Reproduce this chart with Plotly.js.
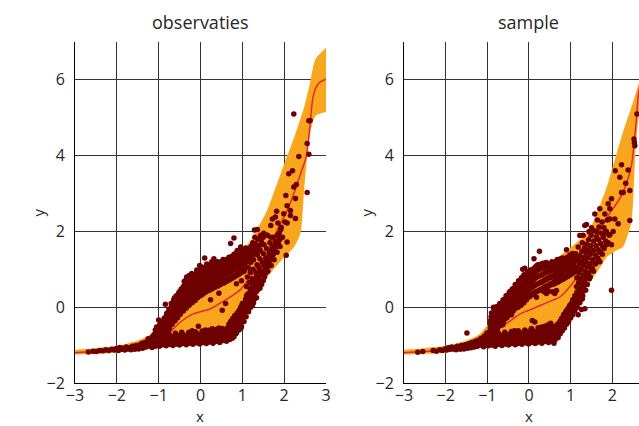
<!DOCTYPE html>
<html>
<head>
<meta charset="utf-8">
<script src="https://cdn.plot.ly/plotly-3.0.1.min.js"></script>
<style>
html, body { margin:0; padding:0; overflow:hidden; background:#fff; }
#chart { width:660px; height:426px; }
</style>
</head>
<body>
<div id="chart"></div>
<script>
// ---------- panel titles, axis titles & ticks ----------
const panelTitles = ["observaties", "sample"];
const xTitle = "x";
const yTitle = "y";
const xTicks = [-3, -2, -1, 0, 1, 2, 3];
const xTicksVisibleRight = [-3, -2, -1, 0, 1, 2];
const yTicks = [-2, 0, 2, 4, 6];

// ---------- observaties: band (lower / upper) ----------
const obsBandX  = [-3, -2.5, -2, -1.5, -1.2, -1, -0.5, 0, 0.5, 0.88, 1.03, 1.2, 1.35, 1.6, 2.0, 2.23, 2.39, 2.47, 2.55, 2.62, 2.75, 3.0];
const obsBandLo = [-1.25, -1.23, -1.2, -1.13, -1.08, -1.05, -1.0, -0.97, -0.9, -0.69, -0.34, 0.0, 0.36, 0.8, 1.32, 1.58, 1.95, 3.0, 4.0, 4.6, 5.05, 5.15];
const obsBandHi = [-1.12, -1.08, -1.02, -0.88, -0.72, -0.5, 0.2, 0.72, 1.12, 1.42, 1.55, 1.76, 2.05, 2.58, 3.78, 4.45, 4.98, 5.25, 5.6, 5.93, 6.55, 6.85];

// ---------- observaties: mean line ----------
const obsLineX = [-3, -2.5, -2, -1.5, -1.2, -0.9, -0.72, -0.48, -0.2, 0.0, 0.24, 0.5, 0.75, 0.96, 1.12, 1.32, 1.6, 1.83, 2.07, 2.23, 2.4, 2.52, 2.58, 2.63, 2.7, 2.8, 2.9, 3.0];
const obsLineY = [-1.2, -1.17, -1.13, -1.06, -0.98, -0.8, -0.65, -0.39, -0.19, -0.12, -0.04, 0.13, 0.3, 0.47, 0.7, 0.97, 1.46, 2.03, 2.55, 3.0, 3.55, 3.95, 4.4, 4.95, 5.6, 5.88, 5.97, 6.02];

// ---------- observaties: points [x, y] ----------
const obsPoints = [
[-2.68,-1.18],[-2.57,-1.16],[-2.49,-1.17],[-2.41,-1.14],[-2.33,-1.15],[-2.26,-1.12],[-2.19,-1.14],[-2.12,-1.11],[-2.06,-1.13],[-2.01,-1.09],[-1.96,-1.14],[-1.93,-1.06],[-1.89,-1.11],[-1.85,-1.08],[-1.81,-1.13],[-1.77,-1.05],[-1.73,-1.1],[-1.69,-1.07],[-1.66,-1.12],[-1.63,-1.03],[-1.6,-1.08],[-1.57,-1.11],[-1.54,-1.01],[-1.51,-1.06],[-1.48,-1.1],[-1.45,-0.99],[-1.43,-1.04],[-1.4,-0.95],[-1.38,-1.08],[-1.35,-1.0],[-1.33,-0.93],[-1.3,-1.05],[-1.28,-0.97],[-1.26,-0.9],[-1.23,-1.02],[-1.21,-0.94],[-1.19,-0.86],[-1.16,-1.06],[-1.14,-0.98],[-1.12,-0.9],[-1.1,-0.82],[-1.08,-1.03],[-1.06,-0.95],[-1.04,-0.76],[-1.02,-0.88],[-1.0,-0.34],[-1.11,-0.72],[-1.25,-0.83],[-1.08,-0.6],[-1.05,-0.52],[-1.15,-0.78],
[-0.98,-1.03],[-0.9,-0.99],[-0.82,-1.02],[-0.74,-0.98],[-0.66,-1.01],[-0.58,-0.97],[-0.5,-1.0],[-0.42,-0.96],[-0.34,-0.99],[-0.26,-0.95],[-0.18,-0.98],[-0.1,-0.94],[-0.02,-0.97],[0.06,-0.93],[0.14,-0.96],[0.22,-0.92],[0.3,-0.95],[0.38,-0.9],[0.46,-0.93],[0.54,-0.88],[0.62,-0.9],
[-0.94,-0.9],[-0.86,-0.87],[-0.78,-0.91],[-0.7,-0.86],[-0.62,-0.89],[-0.54,-0.85],[-0.46,-0.88],[-0.38,-0.84],[-0.3,-0.87],[-0.22,-0.82],[-0.14,-0.86],[-0.06,-0.81],[0.02,-0.85],[0.1,-0.8],[0.18,-0.83],[0.26,-0.78],[0.34,-0.81],[0.42,-0.76],[0.5,-0.79],[0.58,-0.73],
[-0.96,-0.8],[-0.88,-0.77],[-0.8,-0.79],[-0.72,-0.76],[-0.64,-0.78],[-0.56,-0.74],[-0.48,-0.77],[-0.4,-0.73],[-0.32,-0.76],[-0.24,-0.71],[-0.16,-0.74],[-0.08,-0.7],[0.0,-0.72],[0.08,-0.68],[0.16,-0.7],[0.24,-0.66],[0.32,-0.69],[0.4,-0.64],[0.48,-0.66],[0.56,-0.61],
[-0.45,-0.66],[-0.2,-0.62],[0.12,-0.6],[0.28,-0.57],[0.44,-0.55],[-0.05,-0.5],
[-0.95,-0.95],[-0.87,-0.93],[-0.79,-0.96],[-0.71,-0.92],[-0.63,-0.95],[-0.55,-0.91],[-0.47,-0.94],[-0.39,-0.9],[-0.31,-0.93],[-0.23,-0.89],[-0.15,-0.92],[-0.07,-0.88],[0.01,-0.91],[0.09,-0.87],[0.17,-0.9],[0.25,-0.86],[0.33,-0.88],[0.41,-0.84],[0.49,-0.86],[0.57,-0.82],
[-0.92,-0.84],[-0.84,-0.82],[-0.76,-0.84],[-0.68,-0.8],[-0.6,-0.83],[-0.52,-0.79],[-0.44,-0.82],[-0.36,-0.78],[-0.28,-0.81],[-0.2,-0.77],[-0.12,-0.79],[-0.04,-0.75],[0.04,-0.78],[0.12,-0.74],[0.2,-0.76],[0.28,-0.72],[0.36,-0.74],[0.44,-0.7],[0.52,-0.72],[0.6,-0.67],
[-0.9,-0.72],[-0.76,-0.7],[-0.6,-0.69],[-0.44,-0.7],[-0.28,-0.66],[-0.12,-0.65],[0.04,-0.63],[0.2,-0.61],[0.36,-0.59],[0.52,-0.56],
[0.62,-0.78],[0.64,-0.55],[0.66,-0.68],[0.68,-0.45],[0.7,-0.85],[0.7,-0.6],[0.72,-0.38],[0.74,-0.72],[0.75,-0.5],[0.77,-0.3],[0.78,-0.62],[0.8,-0.42],[0.8,-0.78],[0.82,-0.22],[0.83,-0.55],[0.85,-0.35],[0.86,-0.68],[0.88,-0.15],[0.89,-0.48],[0.9,-0.28],[0.92,-0.6],[0.93,-0.08],[0.94,-0.4],[0.96,-0.2],[0.97,0.02],[0.98,-0.5],[1.0,-0.3],[1.01,-0.1],[1.02,0.1],[1.04,-0.38],[1.05,-0.18],[1.06,0.05],[1.08,0.22],[1.09,-0.25],[1.1,-0.02],[1.12,0.15],[1.13,0.35],[1.15,-0.12],[1.16,0.08],[1.17,0.28],[1.19,0.45],[1.2,0.0],[1.22,0.2],[1.23,0.4],[1.25,0.58],[1.27,0.12],[1.28,0.32],[1.3,0.52],[1.32,0.72],[1.34,0.25],[1.36,0.45],[1.38,0.65],[1.4,0.85],
[0.65,-0.85],[0.67,-0.6],[0.69,-0.72],[0.71,-0.5],[0.73,-0.62],[0.76,-0.4],[0.76,-0.82],[0.79,-0.52],[0.81,-0.3],[0.84,-0.45],[0.84,-0.7],[0.87,-0.25],[0.88,-0.58],[0.91,-0.38],[0.91,-0.12],[0.95,-0.3],[0.95,-0.05],[0.97,-0.55],[0.99,-0.15],[1.0,0.1],[1.03,-0.24],[1.03,0.0],[1.06,-0.1],[1.07,0.14],[1.1,0.3],[1.11,0.06],[1.14,-0.06],[1.14,0.22],[1.18,0.1],[1.18,0.36],[1.21,0.3],[1.21,0.5],[1.24,0.05],[1.25,0.45],[1.26,0.66],[1.29,0.22],[1.3,0.62],[1.33,0.4],[1.34,0.8],[1.37,0.55],[1.39,0.75],[1.42,0.5],[1.42,0.95],[1.45,0.68],[1.48,0.85],[1.5,0.7],[1.52,1.1],[1.56,0.9],[1.58,1.2],[1.62,1.08],[1.64,1.35],[1.68,1.25],[1.7,1.5],[1.74,1.4],[1.78,1.65],[1.82,1.6],[1.84,1.9],[1.9,1.8],
[1.1,0.55],[1.12,0.8],[1.14,1.05],[1.15,1.3],[1.17,0.65],[1.19,0.92],[1.2,1.18],[1.22,1.45],[1.24,0.75],[1.26,1.0],[1.27,1.25],[1.29,1.55],[1.3,1.85],[1.33,0.9],[1.35,1.12],[1.36,1.38],[1.38,1.62],[1.4,1.05],[1.42,1.28],[1.43,1.5],[1.45,1.75],[1.46,0.6],[1.47,0.95],[1.48,1.18],[1.5,1.42],[1.52,1.65],[1.53,0.8],[1.55,1.05],[1.56,1.3],[1.58,1.55],[1.6,1.9],[1.61,0.95],[1.63,1.2],[1.65,1.45],[1.66,1.7],[1.68,2.16],[1.69,1.1],[1.71,1.35],[1.72,1.59],[1.74,1.85],[1.76,1.25],[1.77,1.5],[1.79,2.38],[1.8,1.75],[1.82,2.53],[1.83,1.45],[1.85,2.22],[1.86,1.7],[1.87,1.76],[1.88,1.95],[1.9,1.6],[1.92,2.05],[1.93,2.11],[1.96,1.85],[1.99,2.47],[2.02,2.25],[2.04,2.95],[2.05,1.37],[2.07,1.72],[2.07,2.22],[2.07,2.68],[2.11,3.52],[2.15,2.55],[2.15,2.42],[2.2,3.6],[2.23,3.17],[2.23,5.1],[2.27,2.87],[2.27,2.34],[2.29,3.24],[2.35,3.98],[2.55,3.03],[2.55,4.32],[2.59,4.04],[2.59,4.92],[2.62,4.93],[1.72,2.33],[1.51,1.95],[1.58,1.9],[1.36,2.05],[1.29,2.04],[1.68,1.85],
[1.11,1.2],[1.13,1.42],[1.16,1.55],[1.18,1.35],[1.21,1.6],[1.24,1.38],[1.25,1.7],[1.28,1.45],[1.31,1.68],[1.34,1.5],[1.37,1.8],[1.4,1.6],[1.44,1.9],[1.47,1.68],[1.5,1.85],
[-1.03,-0.7],[-0.99,-0.58],[-0.97,-0.45],[-0.95,-0.82],[-0.93,-0.64],[-0.91,-0.5],[-0.9,-0.38],[-0.88,-0.72],[-0.86,-0.55],[-0.85,-0.28],[-0.84,0.08],[-0.83,-0.42],[-0.81,-0.62],[-0.8,-0.15],[-0.78,-0.48],[-0.77,-0.3],[-0.75,-0.05],[-0.74,-0.56],[-0.72,-0.38],[-0.71,-0.2],[-0.69,0.04],[-0.68,-0.45],[-0.66,-0.28],[-0.65,-0.1],[-0.63,0.12],[-0.62,0.25],[-0.61,-0.36],[-0.6,-0.18],[-0.58,0.0],[-0.57,0.2],[-0.55,-0.28],[-0.54,0.32],[-0.53,-0.1],[-0.52,0.08],[-0.5,0.26],[-0.49,0.42],[-0.48,-0.18],[-0.46,-0.02],[-0.45,0.16],[-0.44,0.34],[-0.42,0.52],[-0.41,-0.1],[-0.4,0.06],[-0.38,0.24],[-0.37,0.42],[-0.36,0.6],[-0.35,0.72],[-0.34,-0.02],[-0.33,0.14],[-0.31,0.32],[-0.3,0.5],[-0.29,0.66],[-0.28,0.8],[-0.27,0.05],[-0.26,0.22],[-0.24,0.4],[-0.23,0.58],[-0.22,0.74],[-0.21,0.89],[-0.2,0.12],[-0.18,0.3],[-0.17,0.48],[-0.16,0.66],[-0.15,0.82],[-0.13,0.18],[-0.12,0.38],[-0.11,0.56],[-0.1,0.72],[-0.09,0.9],[-0.07,0.25],[-0.06,0.45],[-0.05,0.62],[-0.04,0.8],[-0.02,0.96],[-0.02,1.1],[0.0,0.3],[0.01,0.5],[0.02,0.7],[0.03,0.86],[0.05,1.0],[0.06,0.35],[0.08,0.56],[0.09,0.76],[0.1,0.92],[0.1,1.3],[0.12,1.06],[0.13,0.4],[0.14,0.6],[0.16,0.8],[0.17,0.98],[0.19,1.1],[0.2,0.44],[0.21,0.64],[0.23,0.84],[0.24,1.02],[0.26,1.14],[0.27,0.48],[0.28,0.68],[0.3,0.88],[0.31,1.05],[0.32,1.28],[0.33,1.17],[0.34,0.52],[0.36,0.72],[0.37,0.92],[0.39,1.08],[0.41,1.2],[0.42,0.56],[0.43,0.76],[0.45,0.95],[0.47,1.12],[0.48,0.6],[0.5,0.8],[0.51,0.98],[0.53,1.15],[0.54,1.26],[0.56,0.64],[0.57,0.84],[0.59,1.02],[0.6,1.2],[0.62,0.68],[0.63,0.88],[0.65,1.05],[0.66,1.22],[0.68,1.32],[0.69,0.72],[0.7,0.92],[0.72,1.1],[0.72,1.68],[0.73,1.26],[0.75,0.76],[0.76,0.96],[0.78,1.14],[0.79,1.3],[0.8,1.83],[0.81,0.8],[0.82,1.0],[0.84,1.18],[0.85,1.36],[0.86,0.62],[0.87,0.84],[0.88,1.5],[0.89,1.04],[0.9,1.22],[0.92,1.4],[0.93,0.88],[0.95,1.08],[0.96,1.26],[0.97,1.44],[0.98,0.7],[0.99,0.92],[1.0,1.12],[1.02,1.3],[1.03,1.5],[1.04,0.95],[1.06,1.16],[1.07,1.36],[1.08,1.56],[0.96,1.59],
[-0.93,-0.76],[-0.94,-0.52],[-0.87,-0.66],[-0.88,-0.46],[-0.87,-0.3],[-0.81,-0.58],[-0.82,-0.36],[-0.81,-0.18],[-0.75,-0.52],[-0.76,-0.24],[-0.75,-0.06],[-0.69,-0.44],[-0.7,-0.28],[-0.69,-0.1],[-0.7,0.1],[-0.63,-0.36],[-0.64,-0.18],[-0.63,0.04],[-0.64,0.2],[-0.57,-0.28],[-0.58,-0.08],[-0.57,0.1],[-0.58,0.3],[-0.51,-0.2],[-0.52,-0.01],[-0.51,0.18],[-0.52,0.38],[-0.45,-0.1],[-0.46,0.08],[-0.45,0.28],[-0.46,0.48],
[-0.39,-0.04],[-0.4,0.16],[-0.39,0.36],[-0.4,0.56],[-0.39,0.68],[-0.33,0.04],[-0.34,0.22],[-0.33,0.42],[-0.34,0.62],[-0.33,0.8],[-0.27,0.1],[-0.28,0.3],[-0.27,0.48],[-0.28,0.7],[-0.27,0.84],[-0.21,0.16],[-0.22,0.34],[-0.21,0.54],[-0.22,0.78],[-0.15,0.22],[-0.16,0.4],[-0.15,0.6],[-0.16,0.86],[-0.09,0.28],[-0.1,0.48],[-0.09,0.66],[-0.1,0.84],[-0.09,0.98],[-0.03,0.32],[-0.04,0.54],[-0.03,0.72],[-0.04,0.9],
[0.03,0.38],[0.02,0.58],[0.03,0.78],[0.02,0.94],[0.03,1.06],[0.09,0.42],[0.08,0.62],[0.09,0.82],[0.08,0.98],[0.15,0.46],[0.14,0.66],[0.15,0.86],[0.14,1.02],[0.15,1.14],[0.21,0.5],[0.2,0.7],[0.21,0.9],[0.2,1.06],[0.27,0.54],[0.26,0.74],[0.27,0.94],[0.26,1.1],[0.27,1.2],[0.33,0.56],[0.32,0.76],[0.33,0.96],[0.32,1.12],[0.39,0.6],[0.38,0.8],[0.39,1.0],[0.38,1.16],[0.45,0.64],[0.44,0.84],[0.45,1.04],[0.44,1.18],[0.51,0.66],[0.5,0.86],[0.51,1.06],[0.5,1.2],
[0.57,0.7],[0.56,0.9],[0.57,1.08],[0.56,1.22],[0.63,0.72],[0.62,0.92],[0.63,1.1],[0.62,1.26],[0.69,0.76],[0.68,0.96],[0.69,1.14],[0.68,1.28],[0.75,0.8],[0.74,1.0],[0.75,1.18],[0.74,1.34],[0.81,0.84],[0.8,1.04],[0.81,1.22],[0.8,1.4],[0.87,0.88],[0.86,1.08],[0.87,1.26],[0.86,1.44],[0.93,0.92],[0.92,1.12],[0.93,1.3],[0.92,1.48],[0.99,0.96],[0.98,1.16],[0.99,1.34],[0.98,1.52],[1.05,1.0],[1.04,1.2],[1.05,1.4],[1.11,1.05],[1.1,1.25],[1.11,1.45],
[0.24,0.2],[0.52,-0.08],[0.72,-0.39],[0.44,0.37],[0.6,0.1]
];

// ---------- sample: band ----------
const smpBandX  = [-3, -2.5, -2, -1.5, -1.2, -1, -0.5, 0, 0.5, 0.9, 1.34, 1.54, 1.74, 1.86, 2.06, 2.25, 2.34, 2.45, 2.5, 2.55, 2.63, 2.7];
const smpBandLo = [-1.25, -1.23, -1.2, -1.13, -1.08, -1.05, -1.0, -0.97, -0.92, -0.42, 0.45, 0.78, 1.1, 1.32, 1.48, 1.58, 1.8, 2.2, 2.8, 4.0, 5.0, 5.4];
const smpBandHi = [-1.12, -1.08, -1.02, -0.88, -0.72, -0.47, 0.37, 0.95, 1.17, 1.5, 1.9, 2.25, 2.8, 3.15, 3.9, 4.6, 4.9, 5.25, 5.42, 5.6, 5.89, 6.1];

// ---------- sample: mean line ----------
const smpLineX = [-3, -2.5, -2, -1.5, -1.2, -0.8, -0.5, -0.2, 0, 0.3, 0.6, 0.74, 0.98, 1.2, 1.38, 1.6, 1.87, 2.05, 2.22, 2.35, 2.46, 2.52, 2.58, 2.63, 2.7];
const smpLineY = [-1.2, -1.17, -1.13, -1.06, -0.98, -0.63, -0.4, -0.17, -0.08, 0.06, 0.2, 0.27, 0.54, 0.9, 1.32, 1.8, 2.37, 2.65, 2.95, 3.3, 3.75, 4.3, 5.0, 5.65, 6.0];

// ---------- sample: points [x, y] ----------
const smpPoints = [
[-2.67,-1.19],[-2.55,-1.17],[-2.3,-1.14],[-2.22,-1.16],[-2.14,-1.12],[-2.08,-1.14],[-2.02,-1.1],[-1.98,-1.13],[-1.94,-1.07],[-1.9,-1.11],[-1.86,-1.05],[-1.82,-1.1],[-1.78,-1.06],[-1.75,-1.12],[-1.72,-1.03],[-1.68,-1.08],[-1.65,-1.11],[-1.62,-1.01],[-1.59,-1.06],[-1.56,-1.1],[-1.53,-0.99],[-1.5,-1.04],[-1.49,-0.68],[-1.47,-1.08],[-1.44,-0.96],[-1.42,-1.02],[-1.39,-1.07],[-1.37,-0.93],[-1.34,-0.99],[-1.31,-1.05],[-1.29,-0.9],[-1.27,-0.96],[-1.24,-1.03],[-1.22,-0.87],[-1.2,-0.93],[-1.18,-1.0],[-1.15,-0.82],[-1.13,-0.9],[-1.11,-0.97],[-1.09,-1.04],[-1.07,-0.76],[-1.05,-0.86],[-1.03,-0.94],[-1.01,-0.68],[-0.99,-1.01],
[-0.97,-1.02],[-0.89,-1.0],[-0.81,-1.03],[-0.73,-0.98],[-0.65,-1.01],[-0.57,-0.97],[-0.49,-1.0],[-0.41,-0.96],[-0.33,-0.99],[-0.25,-0.95],[-0.17,-0.98],[-0.09,-0.94],[-0.01,-0.97],[0.07,-0.93],[0.15,-0.96],[0.23,-0.92],[0.31,-0.95],[0.39,-0.9],[0.47,-0.93],[0.55,-0.88],[0.63,-0.85],
[-0.93,-0.9],[-0.85,-0.86],[-0.77,-0.9],[-0.69,-0.85],[-0.61,-0.88],[-0.53,-0.84],[-0.45,-0.87],[-0.37,-0.82],[-0.29,-0.86],[-0.21,-0.8],[-0.13,-0.84],[-0.05,-0.79],[0.03,-0.83],[0.11,-0.77],[0.19,-0.81],[0.27,-0.75],[0.35,-0.78],[0.43,-0.72],[0.51,-0.75],[0.59,-0.68],[0.67,-0.72],
[-0.95,-0.78],[-0.87,-0.74],[-0.79,-0.77],[-0.71,-0.72],[-0.63,-0.75],[-0.55,-0.7],[-0.47,-0.73],[-0.39,-0.68],[-0.31,-0.71],[-0.23,-0.66],[-0.15,-0.69],[-0.07,-0.64],[0.01,-0.67],[0.09,-0.62],[0.17,-0.65],[0.25,-0.59],[0.33,-0.62],[0.41,-0.55],[0.49,-0.58],[0.57,-0.5],[0.63,-0.55],
[-0.35,-0.62],[0.05,-0.58],[0.3,-0.52],[0.45,-0.47],[0.52,-0.42],[0.4,-0.88],[0.6,-0.95],
[-0.93,-0.96],[-0.85,-0.94],[-0.77,-0.96],[-0.69,-0.92],[-0.61,-0.95],[-0.53,-0.91],[-0.45,-0.93],[-0.37,-0.89],[-0.29,-0.92],[-0.21,-0.88],[-0.13,-0.9],[-0.05,-0.86],[0.03,-0.89],[0.11,-0.85],[0.19,-0.87],[0.27,-0.82],[0.35,-0.85],[0.43,-0.8],[0.51,-0.82],[0.59,-0.78],[0.66,-0.8],
[-0.91,-0.84],[-0.83,-0.81],[-0.75,-0.83],[-0.67,-0.79],[-0.59,-0.82],[-0.51,-0.77],[-0.43,-0.8],[-0.35,-0.75],[-0.27,-0.78],[-0.19,-0.73],[-0.11,-0.76],[-0.03,-0.71],[0.05,-0.74],[0.13,-0.69],[0.21,-0.72],[0.29,-0.66],[0.37,-0.69],[0.45,-0.62],[0.53,-0.65],[0.61,-0.6],
[-0.9,-0.7],[-0.74,-0.68],[-0.58,-0.66],[-0.42,-0.64],[-0.26,-0.62],[-0.1,-0.6],[0.06,-0.56],[0.22,-0.54],[0.38,-0.5],[0.5,-0.45],
[0.66,-0.62],[0.68,-0.45],[0.7,-0.8],[0.72,-0.55],[0.74,-0.38],[0.75,-0.7],[0.77,-0.48],[0.78,-0.3],[0.8,-0.62],[0.82,-0.4],[0.83,-0.2],[0.85,-0.55],[0.87,-0.32],[0.88,-0.12],[0.9,-0.45],[0.92,-0.25],[0.93,-0.05],[0.95,-0.38],[0.97,-0.15],[0.98,0.05],[1.0,-0.28],[1.02,-0.08],[1.03,0.12],[1.05,-0.2],[1.07,0.0],[1.08,0.2],[1.1,-0.1],[1.12,0.1],[1.14,0.3],[1.16,0.0],[1.18,0.2],[1.18,-0.2],[1.2,0.4],[1.22,0.12],[1.24,0.32],[1.26,0.5],[1.26,-0.06],[1.28,0.22],[1.3,0.42],[1.32,0.6],[1.34,-0.04],
[0.69,-0.7],[0.71,-0.5],[0.73,-0.65],[0.76,-0.42],[0.76,-0.58],[0.79,-0.36],[0.81,-0.52],[0.82,-0.26],[0.84,-0.46],[0.86,-0.18],[0.87,-0.4],[0.89,-0.3],[0.91,-0.08],[0.92,-0.4],[0.94,-0.2],[0.96,0.0],[0.97,-0.3],[0.99,-0.1],[1.01,0.08],[1.01,-0.2],[1.04,0.02],[1.05,0.2],[1.06,-0.1],[1.09,0.1],[1.1,0.3],[1.12,-0.02],[1.13,0.2],[1.15,0.4],[1.17,0.1],[1.19,0.3],[1.21,0.5],[1.23,0.2],[1.25,0.4],[1.27,0.6],[1.29,0.3],[1.31,0.5],[1.33,0.7],[1.36,0.45],[1.38,0.8],[1.4,0.6],[1.43,0.9],[1.47,0.8],[1.5,1.0],[1.55,0.95],[1.6,1.15],[1.66,1.25],[1.7,1.2],[1.76,1.4],[1.8,1.55],[1.86,1.65],[1.9,1.7],
[-0.95,-0.72],[-0.93,-0.55],[-0.92,-0.35],[-0.9,-0.15],[-0.88,-0.62],[-0.86,-0.45],[-0.85,-0.25],[-0.85,-0.02],[-0.83,-0.68],[-0.82,-0.52],[-0.8,-0.36],[-0.79,-0.18],[-0.77,0.02],[-0.76,-0.58],[-0.74,-0.42],[-0.73,-0.26],[-0.71,-0.08],[-0.7,0.1],[-0.68,-0.48],[-0.67,-0.32],[-0.65,-0.15],[-0.64,0.02],[-0.62,0.2],[-0.61,-0.38],[-0.59,-0.22],[-0.58,-0.05],[-0.56,0.12],[-0.55,0.3],[-0.53,-0.28],[-0.52,-0.12],[-0.5,0.05],[-0.49,0.22],[-0.47,0.4],[-0.46,-0.2],[-0.44,-0.02],[-0.43,0.15],[-0.41,0.32],[-0.4,0.48],[-0.38,-0.1],[-0.37,0.08],[-0.35,0.25],[-0.34,0.42],[-0.33,0.6],[-0.31,-0.02],[-0.3,0.16],[-0.28,0.34],[-0.27,0.52],[-0.25,0.7],[-0.24,0.05],[-0.22,0.24],[-0.21,0.42],[-0.2,0.6],[-0.18,0.78],[-0.17,0.12],[-0.15,0.32],[-0.14,0.5],[-0.13,0.68],[-0.12,0.86],[-0.15,1.0],[-0.1,1.03],[-0.1,0.2],[-0.08,0.38],[-0.07,0.58],[-0.05,0.76],[-0.04,0.92],[-0.02,0.26],[0.0,0.45],[0.01,0.65],[0.03,0.82],[0.04,0.98],[0.06,0.32],[0.07,0.52],[0.09,0.72],[0.1,0.88],[0.12,1.02],[0.12,1.28],[0.13,0.38],[0.15,0.58],[0.16,0.78],[0.18,0.95],[0.19,1.1],[0.2,0.42],[0.22,0.62],[0.23,0.82],[0.25,1.0],[0.25,1.48],[0.26,1.12],[0.27,0.46],[0.29,0.66],[0.3,0.86],[0.32,1.04],[0.33,1.16],[0.34,0.5],[0.35,1.15],[0.36,0.7],[0.37,0.9],[0.39,1.07],[0.41,1.18],[0.42,0.52],[0.43,0.74],[0.45,0.93],[0.47,1.1],[0.48,0.56],[0.5,0.78],[0.51,0.96],[0.53,1.12],[0.55,1.2],[0.56,0.6],[0.57,0.8],[0.59,0.98],[0.6,1.14],[0.62,0.62],[0.63,0.84],[0.65,1.0],[0.66,1.18],[0.68,1.26],[0.69,0.66],[0.7,0.86],[0.72,1.04],[0.73,1.2],[0.75,0.7],[0.76,0.9],[0.78,1.08],[0.79,1.24],[0.81,1.3],[0.82,0.74],[0.83,0.94],[0.85,1.12],[0.86,1.28],[0.88,0.78],[0.89,0.98],[0.9,1.52],[0.91,1.16],[0.92,1.32],[0.94,0.82],[0.95,1.02],[0.97,1.28],[0.98,1.38],[1.0,0.86],[1.01,1.06],[1.03,1.24],[1.04,1.42],[1.06,0.9],[1.08,1.1],[1.1,1.3],[1.12,1.41],[1.12,0.95],
[-0.94,-0.64],[-0.93,-0.45],[-0.91,-0.25],[-0.89,-0.7],[-0.87,-0.54],[-0.86,-0.35],[-0.84,-0.14],[-0.81,-0.6],[-0.81,-0.44],[-0.8,-0.26],[-0.78,-0.08],[-0.75,-0.5],[-0.75,-0.34],[-0.72,-0.17],[-0.72,0.02],[-0.69,-0.4],[-0.68,-0.24],[-0.66,-0.06],[-0.65,0.12],[-0.63,-0.46],[-0.62,-0.3],[-0.6,-0.13],[-0.6,0.05],[-0.57,0.22],[-0.57,-0.3],[-0.54,-0.2],[-0.54,0.0],[-0.51,0.14],[-0.51,0.32],[-0.48,-0.1],[-0.47,0.06],[-0.45,0.24],[-0.44,0.42],[-0.42,-0.2],[-0.42,0.0],[-0.39,0.16],[-0.39,0.34],[-0.36,0.5],[-0.36,-0.06],[-0.32,0.07],[-0.32,0.26],[-0.3,0.44],[-0.29,0.6],[-0.26,0.0],[-0.26,0.14],[-0.24,0.33],[-0.23,0.52],[-0.22,0.68],[-0.19,0.05],[-0.19,0.22],[-0.17,0.4],[-0.16,0.58],[-0.15,0.8],[-0.12,0.12],[-0.12,0.3],[-0.1,0.48],[-0.09,0.66],[-0.08,0.85],[-0.06,0.2],[-0.05,0.4],[-0.03,0.58],[-0.02,0.76],[-0.01,0.94],
[0.02,0.28],[0.02,0.48],[0.05,0.66],[0.05,0.84],[0.07,0.98],[0.09,0.34],[0.1,0.54],[0.12,0.74],[0.13,0.9],[0.15,1.06],[0.16,0.4],[0.17,0.6],[0.19,0.8],[0.2,0.98],[0.22,1.12],[0.24,0.44],[0.25,0.64],[0.27,0.84],[0.28,1.02],[0.3,1.14],[0.31,0.48],[0.32,0.68],[0.34,0.88],[0.35,1.05],[0.38,0.54],[0.39,0.74],[0.4,0.92],[0.42,1.08],[0.44,1.16],[0.45,0.58],[0.46,0.78],[0.48,0.96],[0.5,1.12],[0.52,0.62],[0.53,0.82],[0.55,1.0],[0.57,1.16],[0.59,0.66],[0.6,0.86],[0.62,1.04],[0.63,1.2],[0.65,0.7],[0.67,0.9],[0.68,1.08],[0.7,1.22],[0.72,0.76],[0.73,0.96],[0.75,1.12],[0.76,1.28],[0.79,0.8],[0.8,1.0],[0.82,1.16],[0.84,0.86],[0.85,1.04],[0.87,1.2],[0.9,0.9],[0.9,1.08],[0.93,1.24],[0.94,1.02],[0.96,1.14],[0.99,0.96],[1.0,1.2],[1.02,1.34],[1.05,1.0],[1.06,1.2],[1.09,1.38],[1.1,1.05],[1.13,1.22],
[0.36,0.41],[0.46,0.42],[0.56,0.41],[0.66,0.44],[0.18,0.26],[0.14,-0.39],[0.08,-0.35],[0.42,0.36],[0.62,0.36],[-0.85,0.0],
[1.14,0.55],[1.15,0.78],[1.16,1.02],[1.17,1.25],[1.18,1.59],[1.19,0.65],[1.2,0.9],[1.21,1.14],[1.22,1.36],[1.22,1.89],[1.24,0.75],[1.25,1.0],[1.26,1.22],[1.27,1.48],[1.28,1.7],[1.3,1.9],[1.3,0.85],[1.31,1.1],[1.32,1.32],[1.33,1.56],[1.34,2.16],[1.35,0.95],[1.36,1.2],[1.37,1.44],[1.38,1.66],[1.38,2.18],[1.4,1.06],[1.41,1.3],[1.42,1.52],[1.43,1.78],[1.44,2.0],[1.45,0.75],[1.46,1.15],[1.47,1.4],[1.48,1.62],[1.49,1.9],[1.5,2.1],[1.52,1.02],[1.53,1.26],[1.54,1.5],[1.55,1.75],[1.56,2.02],[1.58,2.46],[1.58,1.15],[1.6,1.38],[1.61,1.62],[1.62,2.0],[1.62,1.86],[1.64,2.3],[1.65,1.3],[1.66,1.52],[1.67,1.78],[1.68,2.12],[1.7,2.6],[1.71,1.45],[1.72,1.68],[1.74,1.95],[1.75,2.25],[1.77,1.6],[1.78,1.85],[1.8,2.1],[1.82,2.46],[1.82,1.96],[1.84,1.75],[1.86,2.0],[1.88,2.3],[1.9,2.73],[1.92,1.9],[1.94,2.6],[1.94,2.33],[1.94,1.91],[1.98,2.86],[1.98,1.65],[1.98,0.45],[2.02,2.0],[2.06,2.33],[2.07,3.6],[2.14,2.2],[2.18,3.43],[2.22,3.03],[2.22,3.76],[2.32,3.27],[2.38,3.62],[2.42,3.08],[2.26,3.03],[2.42,2.29],[2.52,4.44],[2.53,4.35],[2.54,4.26],[2.59,5.1]
];

// ---------- drawing ----------
const ORANGE = "#f9a61f", RED = "#e8262b", DOT = "#6e0000";
const FONT = "Open Sans, Noto Sans, sans-serif";
const TXT = "#262626";

function panel(bx, blo, bhi, lx, ly, pts, xa, ya) {
  return [
    {x: bx, y: blo, xaxis: xa, yaxis: ya, type: "scatter", mode: "lines",
     line: {width: 0, shape: "spline", smoothing: 0.7}, hoverinfo: "skip", showlegend: false},
    {x: bx, y: bhi, xaxis: xa, yaxis: ya, type: "scatter", mode: "lines", fill: "tonexty",
     fillcolor: ORANGE, line: {width: 0, shape: "spline", smoothing: 0.7}, hoverinfo: "skip", showlegend: false},
    {x: lx, y: ly, xaxis: xa, yaxis: ya, type: "scatter", mode: "lines",
     line: {color: RED, width: 1.5, shape: "spline"}, showlegend: false},
    {x: pts.map(p => p[0]), y: pts.map(p => p[1]), xaxis: xa, yaxis: ya, type: "scatter", mode: "markers",
     marker: {color: DOT, size: 5.5, line: {width: 0}}, showlegend: false}
  ];
}

const data = [].concat(
  panel(obsBandX, obsBandLo, obsBandHi, obsLineX, obsLineY, obsPoints, "x", "y"),
  panel(smpBandX, smpBandLo, smpBandHi, smpLineX, smpLineY, smpPoints, "x2", "y2")
);

function xax(domain, anchor, ticks) {
  return {domain: domain, anchor: anchor, range: [-3, 3], tickvals: ticks, showgrid: true,
    gridcolor: "#333", gridwidth: 1, zeroline: false, showline: true, linecolor: "#000", linewidth: 1,
    ticks: "", ticklabelstandoff: -2, tickfont: {size: 16, color: TXT, family: FONT}, automargin: false};
}
function yax(anchor) {
  return {anchor: anchor, range: [-2, 7], tickvals: yTicks, showgrid: true,
    gridcolor: "#333", gridwidth: 1, zeroline: false, showline: true, linecolor: "#000", linewidth: 1,
    ticks: "", ticklabelstandoff: 6, tickfont: {size: 16, color: TXT, family: FONT}, automargin: false};
}

const titleFont = {size: 18, color: TXT, family: FONT};
const axisTitleFont = {size: 15, color: TXT, family: FONT};
const annotations = [];
["x", "x2"].forEach((xa, i) => {
  const ya = i === 0 ? "y" : "y2";
  annotations.push({text: panelTitles[i], xref: xa + " domain", yref: "paper", x: 0.5, y: 1,
    yshift: 20, xanchor: "center", yanchor: "middle", showarrow: false, font: titleFont});
  annotations.push({text: xTitle, xref: xa + " domain", yref: ya + " domain", x: 0.5, y: 0,
    yshift: -33, xanchor: "center", yanchor: "middle", borderpad: 0, showarrow: false, font: axisTitleFont});
  annotations.push({text: yTitle, xref: xa + " domain", yref: ya + " domain", x: 0, y: 0.5,
    xshift: -38, xanchor: "center", yanchor: "middle", textangle: -90, borderpad: 0, showarrow: false, font: axisTitleFont});
});

const layout = {
  width: 660, height: 426,
  margin: {l: 75, r: 6, t: 42, b: 43},
  paper_bgcolor: "#fff", plot_bgcolor: "#fff",
  font: {family: FONT, color: TXT},
  xaxis: xax([0, 0.4335], "y", xTicks),
  yaxis: yax("x"),
  xaxis2: xax([0.5682, 1], "y2", xTicksVisibleRight),
  yaxis2: yax("x2"),
  showlegend: false,
  annotations: annotations
};

Plotly.newPlot("chart", data, layout, {staticPlot: true, displayModeBar: false});
</script>
</body>
</html>
